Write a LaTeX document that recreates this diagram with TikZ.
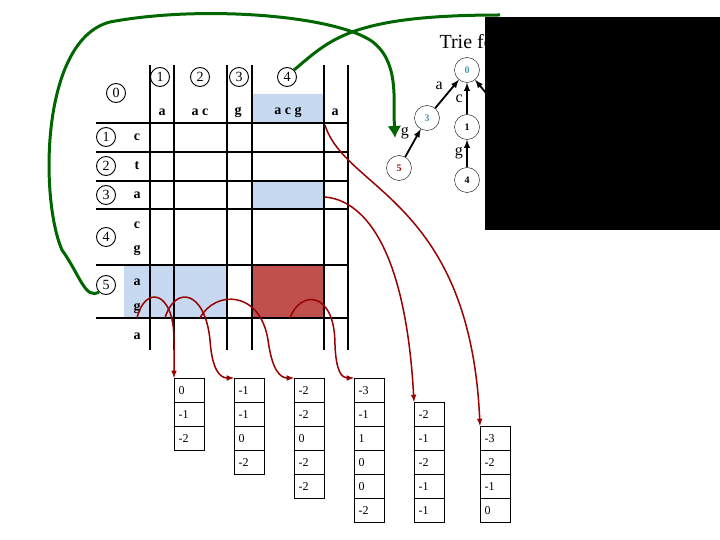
\documentclass[tikz,border=0pt]{standalone}
\usepackage{fontspec}
\setmainfont{Liberation Serif}
\usetikzlibrary{arrows.meta}
\begin{document}
\begin{tikzpicture}[x=1pt,y=-1pt,
 grid/.style={line width=1.3pt},
 circ/.style={circle,draw,line width=0.9pt,inner sep=0pt,minimum size=19pt,font=\fontsize{14}{14}\selectfont},
 lab/.style={font=\bfseries\fontsize{14}{14}\selectfont},
 cell/.style={draw,line width=1.2pt,minimum width=30pt,minimum height=24pt,anchor=north west,font=\fontsize{12}{12}\selectfont,align=left,text width=22pt},
 tn/.style={circle,draw,inner sep=0pt,minimum size=25pt,font=\bfseries\fontsize{10}{10}\selectfont},
 ta/.style={-latex,line width=1.8pt},
 red/.style={draw=red!60!black,line width=1.5pt,-latex},
 grn/.style={draw=green!40!black,line width=3pt,-{Latex[length=12pt,width=14pt]}}]
\useasboundingbox (0,0) rectangle (720,540);
\definecolor{lb}{RGB}{198,217,240}
\definecolor{dr}{RGB}{192,80,77}
\definecolor{teal}{RGB}{75,155,180}
% shading
\fill[lb] (252,94) rectangle (324,123);
\fill[lb] (252,181) rectangle (324,209);
\fill[lb] (124,265) rectangle (227,318);
\fill[dr] (252,265) rectangle (324,318);
% grid
\foreach \x in {150,174,227,252,324,348} \draw[grid] (\x,65) -- (\x,350);
\foreach \y in {123,152,181,209,265,318} \draw[grid] (96,\y) -- (348,\y);
% header circles
\node[circ] (c0) at (116,93) {0};
\node[circ] (h1) at (160,77) {1};
\node[circ] (h2) at (200,77) {2};
\node[circ] (h3) at (239,77) {3};
\node[circ] (h4) at (287,77) {4};
\node[lab] (la1) at (162,112) {a};
\node[lab] (la2) at (200,112) {a c};
\node[lab] (la3) at (238,112) {g};
\node[lab] (la4) at (288,112) {a c g};
\node[lab] (la5) at (335,112) {a};
\node[circ] (r1) at (106,137) {1};
\node[circ] (r2) at (106,166) {2};
\node[circ] (r3) at (106,195) {3};
\node[circ] (r4) at (106,237) {4};
\node[circ] (r5) at (106,285) {5};
\foreach \t/\y [count=\i] in {c/137,t/166,a/195,c/225,g/250,a/282,g/308,a/336} \node[lab] (rl\i) at (137,\y) {\t};
% bottom table
\foreach \x/\s/\vals [count=\k] in {174/0/{0,-1,-2},234/0/{-1,-1,0,-2},294/0/{-2,-2,0,-2,-2},354/0/{-3,-1,1,0,0,-2},414/1/{-2,-1,-2,-1,-1},480/2/{-3,-2,-1,0}}{
  \foreach \v [count=\j] in \vals {
    \pgfmathsetmacro{\yy}{378+24*(\s+\j-1)}
    \node[cell] (b\k-\j) at (\x,\yy) {\v};
  }
}
% red arrows
\coordinate (s1) at (137,318); \coordinate (s2) at (165,318); \coordinate (s3) at (200,318); \coordinate (s4) at (290,318);
\coordinate (s5) at (325,197); \coordinate (s6) at (325,125);
\draw[red] (s1) .. controls (145,285) and (174,290) .. (174,340) -- (b1-1.north west);
\draw[red] (s2) .. controls (175,285) and (205,290) .. (210,340) .. controls (212,370) and (220,378) .. (b2-1.north west);
\draw[red] (s3) .. controls (215,290) and (260,290) .. (268,340) .. controls (272,370) and (280,378) .. (b3-1.north west);
\draw[red] (s4) .. controls (300,290) and (335,290) .. (335,345) .. controls (336,372) and (342,378) .. (b4-1.north west);
\draw[red] (s5) .. controls (360,200) and (405,240) .. (b5-1.north west);
\draw[red] (s6) .. controls (345,190) and (470,200) .. (b6-1.north west);
% trie
\node[font=\fontsize{20}{20}\selectfont] (tt) at (470,42) {Trie for};
\node[tn,text=teal] (t0) at (467,70) {0};
\node[tn,text=teal] (t3) at (427,118) {3};
\node[tn] (t1) at (467,127) {1};
\node[tn,text=red!70!black] (t5) at (399,168) {5};
\node[tn] (t4) at (467,180) {4};
\draw[ta] (t3) -- (t0) node[midway,above left,font=\fontsize{16}{16}\selectfont] {a};
\draw[ta] (t1) -- (t0) node[midway,left,font=\fontsize{16}{16}\selectfont] {c};
\draw[ta] (t5) -- (t3) node[midway,above left,font=\fontsize{16}{16}\selectfont] {g};
\draw[ta] (t4) -- (t1) node[midway,left,font=\fontsize{16}{16}\selectfont] {g};
\coordinate (tr) at (500,110);
\draw[ta] (tr) -- (t0);
% green arrows
\coordinate (g1) at (395,138);
\draw[grn] (r5.south west) .. controls (85,300) and (80,275) .. (62,250) .. controls (40,200) and (40,40) .. (110,22) .. controls (200,5) and (330,15) .. (370,40) .. controls (400,60) and (393,100) .. (g1);
\coordinate (g2) at (500,15);
\draw[green!40!black,line width=3pt] (h4.north east) .. controls (330,40) and (350,15) .. (g2);
\fill[black] (485,17) rectangle (720,230);
\end{tikzpicture}
\end{document}
